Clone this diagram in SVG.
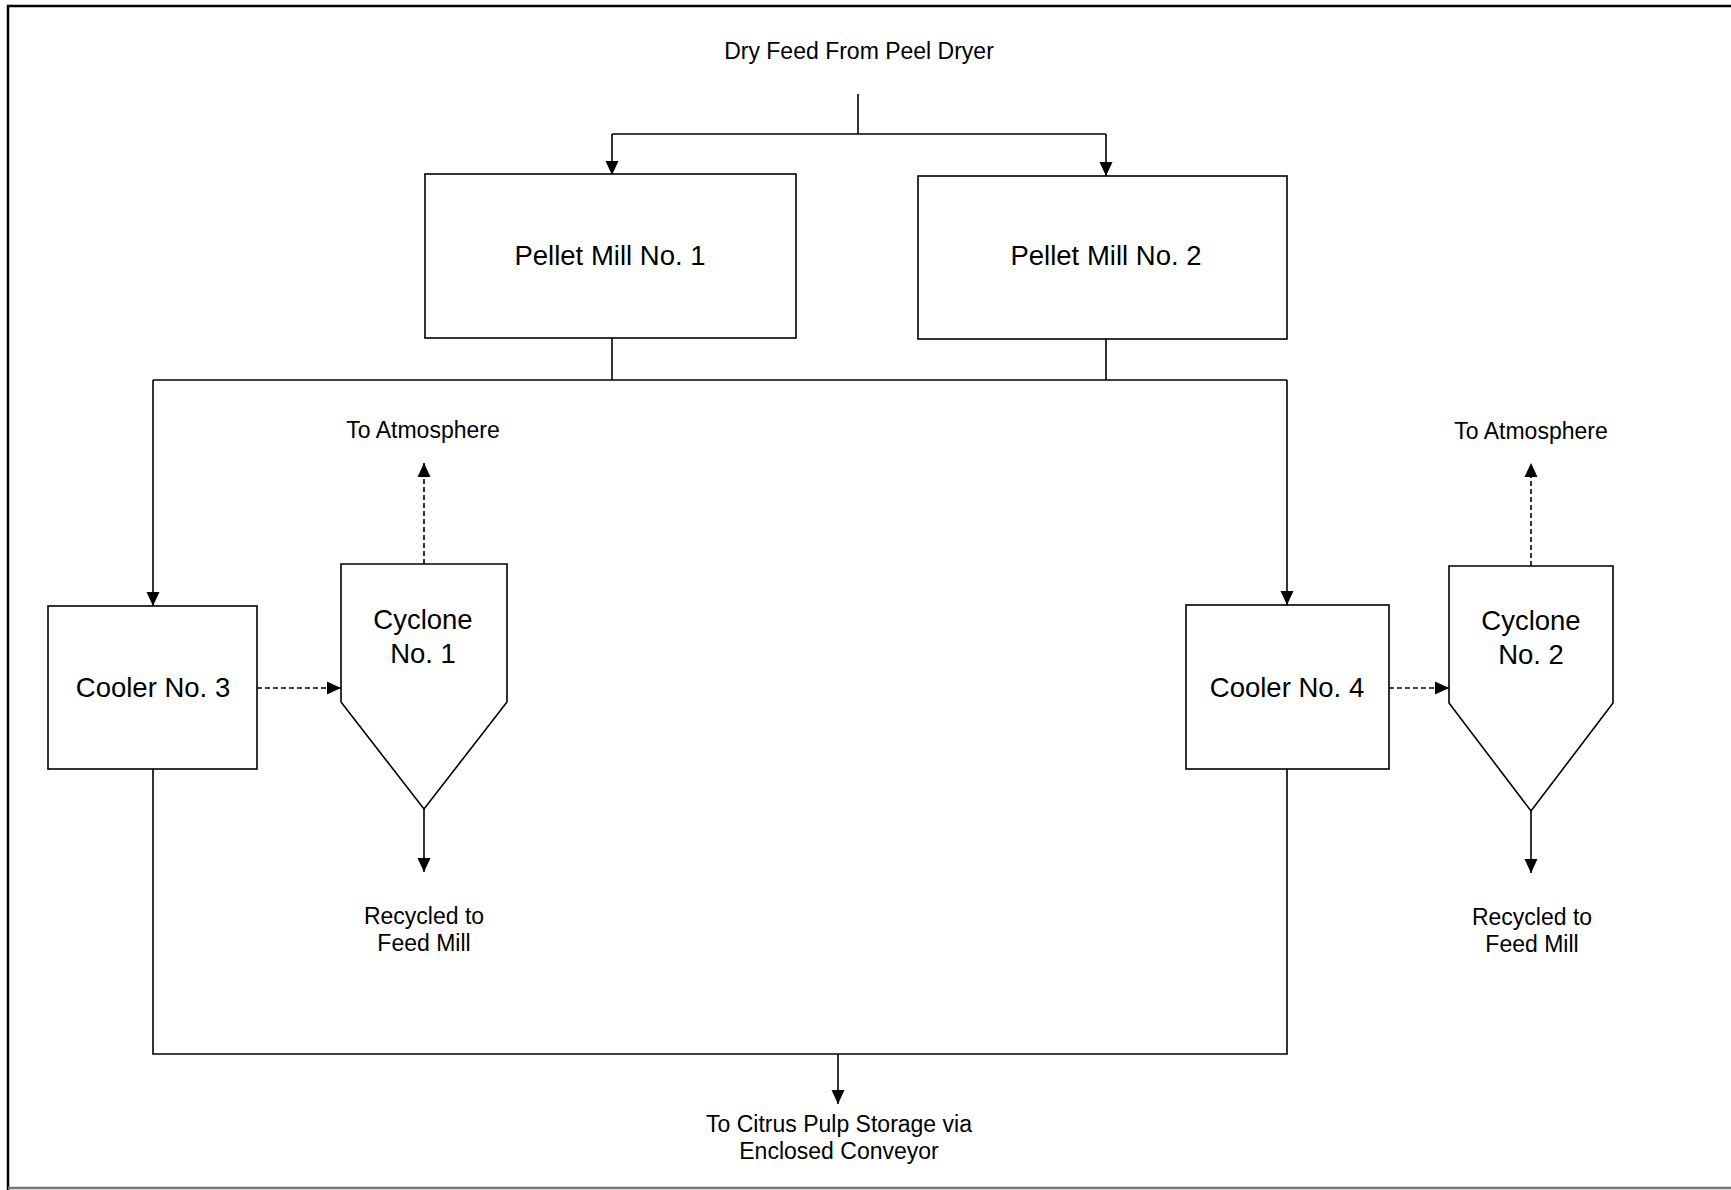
<svg xmlns="http://www.w3.org/2000/svg" width="1731" height="1190" viewBox="0 0 1731 1190">
<defs>
<marker id="arr" markerUnits="userSpaceOnUse" markerWidth="14" markerHeight="14" viewBox="0 0 14 14" refX="14" refY="7" orient="auto">
<path d="M0,0.5 L14,7 L0,13.5 z" fill="#000"/>
</marker>
<style>
.box{fill:#fff;stroke:#000;stroke-width:1.6}
.ln{fill:none;stroke:#000;stroke-width:1.6}
.dash{fill:none;stroke:#000;stroke-width:1.6;stroke-dasharray:5,3}
.big{font-family:"Liberation Sans",Arial,sans-serif;font-size:27.5px;text-anchor:middle;fill:#000}
.sm{font-family:"Liberation Sans",Arial,sans-serif;font-size:23px;text-anchor:middle;fill:#000}
.border{fill:none;stroke:#000;stroke-width:2.5}
</style>
</defs>
<rect width="1731" height="1190" fill="#fff"/>
<g id="border">
<path class="border" d="M8,1190 L8,6 L1731,6"/>
<path d="M8,1188 L1731,1188" stroke="#777" stroke-width="2.5"/>
</g>
<g id="connectors">
<path class="ln" d="M858,94 L858,134"/>
<path class="ln" d="M612,134 L1106,134"/>
<path class="ln" d="M612,134 L612,175" marker-end="url(#arr)"/>
<path class="ln" d="M1106,134 L1106,176" marker-end="url(#arr)"/>
<path class="ln" d="M612,338 L612,380"/>
<path class="ln" d="M1106,339 L1106,380"/>
<path class="ln" d="M153,380 L1287,380"/>
<path class="ln" d="M153,380 L153,606" marker-end="url(#arr)"/>
<path class="ln" d="M1287,380 L1287,605" marker-end="url(#arr)"/>
<path class="dash" d="M257,688 L341,688" marker-end="url(#arr)"/>
<path class="dash" d="M1389,688 L1449,688" marker-end="url(#arr)"/>
<path class="dash" d="M424,564 L424,463" marker-end="url(#arr)"/>
<path class="dash" d="M1531,566 L1531,463" marker-end="url(#arr)"/>
<path class="ln" d="M424,809 L424,872" marker-end="url(#arr)"/>
<path class="ln" d="M1531,811 L1531,873" marker-end="url(#arr)"/>
<path class="ln" d="M153,769 L153,1054 L1287,1054 L1287,769"/>
<path class="ln" d="M838,1054 L838,1104" marker-end="url(#arr)"/>
</g>
<g id="feed-label"><text class="sm" x="859" y="59">Dry Feed From Peel Dryer</text></g>
<g id="pellet-mill-1">
<rect class="box" x="425" y="174" width="371" height="164"/>
<text class="big" x="610" y="265">Pellet Mill No. 1</text>
</g>
<g id="pellet-mill-2">
<rect class="box" x="918" y="176" width="369" height="163"/>
<text class="big" x="1106" y="265">Pellet Mill No. 2</text>
</g>
<g id="cooler-3">
<rect class="box" x="48" y="606" width="209" height="163"/>
<text class="big" x="153" y="697">Cooler No. 3</text>
</g>
<g id="cooler-4">
<rect class="box" x="1186" y="605" width="203" height="164"/>
<text class="big" x="1287" y="697">Cooler No. 4</text>
</g>
<g id="cyclone-1">
<path class="box" d="M341,564 L507,564 L507,702 L424,809 L341,702 Z"/>
<text class="big" x="423" y="629">Cyclone</text>
<text class="big" x="423" y="663">No. 1</text>
</g>
<g id="cyclone-2">
<path class="box" d="M1449,566 L1613,566 L1613,703 L1531,811 L1449,703 Z"/>
<text class="big" x="1531" y="630">Cyclone</text>
<text class="big" x="1531" y="664">No. 2</text>
</g>
<g id="atm-1"><text class="sm" x="423" y="438">To Atmosphere</text></g>
<g id="atm-2"><text class="sm" x="1531" y="439">To Atmosphere</text></g>
<g id="recycle-1"><text class="sm" x="424" y="924">Recycled to</text><text class="sm" x="424" y="951">Feed Mill</text></g>
<g id="recycle-2"><text class="sm" x="1532" y="925">Recycled to</text><text class="sm" x="1532" y="952">Feed Mill</text></g>
<g id="storage"><text class="sm" x="839" y="1132">To Citrus Pulp Storage via</text><text class="sm" x="839" y="1159">Enclosed Conveyor</text></g>
</svg>
